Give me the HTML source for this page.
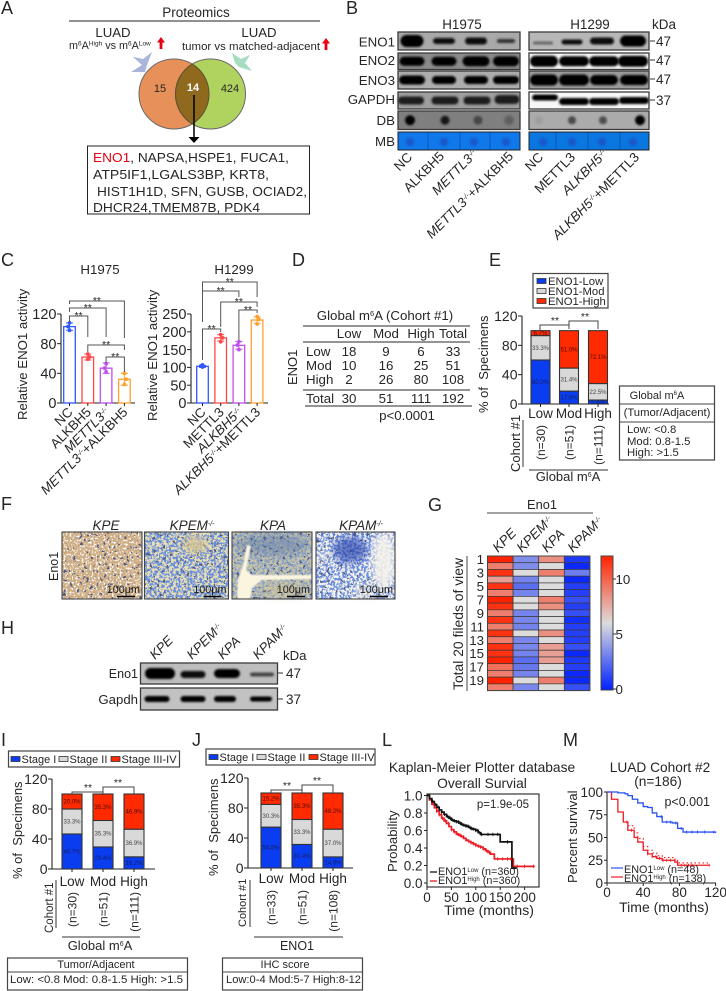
<!DOCTYPE html>
<html lang="en">
<head>
<meta charset="utf-8">
<title>ENO1 multi-panel figure</title>
<style>
html,body{margin:0;padding:0;background:#fff;width:726px;height:991px;overflow:hidden}
svg{display:block;font-family:"Liberation Sans",Arial,sans-serif}
</style>
</head>
<body>
<svg id="fig" xmlns="http://www.w3.org/2000/svg" width="726" height="991" viewBox="0 0 726 991">
<defs>
<filter id="blur1" x="-30%" y="-60%" width="160%" height="220%"><feGaussianBlur stdDeviation="1"/></filter>
<filter id="blur4" x="-50%" y="-50%" width="200%" height="200%"><feGaussianBlur stdDeviation="4"/></filter>
<filter id="blurS" x="-20%" y="-20%" width="140%" height="140%"><feGaussianBlur stdDeviation=".8"/></filter>
<filter id="spBlue" x="0" y="0" width="100%" height="100%"><feTurbulence type="fractalNoise" baseFrequency=".42" numOctaves="3" seed="3"/><feColorMatrix type="matrix" values="0 0 0 0 .14 0 0 0 0 .27 0 0 0 0 .74 9 0 0 0 -4.1"/></filter>
<filter id="spDark" x="0" y="0" width="100%" height="100%"><feTurbulence type="fractalNoise" baseFrequency=".4" numOctaves="3" seed="9"/><feColorMatrix type="matrix" values="0 0 0 0 .25 0 0 0 0 .36 0 0 0 0 .58 9 0 0 0 -4.2"/></filter>
<filter id="spBrown" x="0" y="0" width="100%" height="100%"><feTurbulence type="fractalNoise" baseFrequency=".45" numOctaves="3" seed="5"/><feColorMatrix type="matrix" values="0 0 0 0 .6 0 0 0 0 .4 0 0 0 0 .2 9 0 0 0 -4.2"/></filter>
<filter id="spWhite" x="0" y="0" width="100%" height="100%"><feTurbulence type="fractalNoise" baseFrequency=".5" numOctaves="3" seed="14"/><feColorMatrix type="matrix" values="0 0 0 0 .97 0 0 0 0 .96 0 0 0 0 .93 12 0 0 0 -6.6"/></filter>
<filter id="spBlack" x="0" y="0" width="100%" height="100%"><feTurbulence type="fractalNoise" baseFrequency=".3" numOctaves="2" seed="21"/><feColorMatrix type="matrix" values="0 0 0 0 .08 0 0 0 0 .1 0 0 0 0 .22 24 0 0 0 -15.6"/></filter>
<linearGradient id="cbGrad" x1="0" y1="0" x2="0" y2="1">
<stop offset="0" stop-color="#ff2200"/><stop offset=".5" stop-color="#dcdcdc"/><stop offset="1" stop-color="#0020ff"/>
</linearGradient>
</defs>
</svg>
<script>
/* ---------- chart data ---------- */
const cCats1 = ['NC','ALKBH5','<tspan font-style="italic">METTL3</tspan><tspan font-style="italic" dy="-4" font-size="7">-/-</tspan>','<tspan font-style="italic">METTL3</tspan><tspan font-style="italic" dy="-4" font-size="7">-/-</tspan><tspan dy="4">+ALKBH5</tspan>'];
const cCats2 = ['NC','METTL3','<tspan font-style="italic">ALKBH5</tspan><tspan font-style="italic" dy="-4" font-size="7">-/-</tspan>','<tspan font-style="italic">ALKBH5</tspan><tspan font-style="italic" dy="-4" font-size="7">-/-</tspan><tspan dy="4">+METTL3</tspan>'];
const cValues1 = [103,62,47,32];
const cValues2 = [103,183,162,233];
const cErr1 = [5,4,7,8];
const cErr2 = [3,9,11,9];
const cReps1 = [[108,103,98],[66,62,59],[53,47,42],[40,32,25]];
const cReps2 = [[107,104,101],[192,183,172],[172,163,150],[243,235,222]];
const cTicks1 = [0,40,80,120];
const cTicks2 = [0,50,100,150,200,250];

const tableRows = [['Low',18,9,6,33],['Mod',10,16,25,51],['High',2,26,80,108],['Total',30,51,111,192]];
const tableHead = ['Low','Mod','High','Total'];

const stackCats = ['Low','Mod','High'];
const stackTicks = [0,40,80,120];
const eLow = [60.0,17.6,5.4];
const eMod = [33.3,31.4,22.5];
const eHigh = [6.7,51.0,72.1];
const eN = ['(n=30)','(n=51)','(n=111)'];
const iLow = [46.7,29.4,16.2];
const iMod = [33.3,35.3,36.9];
const iHigh = [20.0,35.3,46.9];
const iN = ['(n=30)','(n=51)','(n=111)'];
const jLow = [54.5,31.4,14.8];
const jMod = [30.3,33.3,37.0];
const jHigh = [15.2,35.3,48.2];
const jN = ['(n=33)','(n=51)','(n=108)'];

const gCols = ['KPE','KPEM<tspan dy="-4" font-size="7">-/-</tspan>','KPA','KPAM<tspan dy="-4" font-size="7">-/-</tspan>'];
const gRowLabels = [1,3,5,7,9,11,13,15,17,19];
const gKPE  = [12,9,11.5,8,11.5,9,12,11.5,9,11.5,9,11.5,9,11.5,11.5,12,9.5,9,12,9];
const gKPEM = [3.5,3.5,6,3.2,2.5,3.2,6,6,3.2,3.3,3.2,6,3.3,3.3,3.2,2.5,2.8,3.2,6,3.3];
const gKPA  = [8.5,6,9,6,6,6,9,8.5,6,6,6,8.5,6,8,8,8,6,6,9,6];
const gKPAM = [0.8,0.3,3,0.3,1,1,1.5,1,1.5,0.5,1,1,1,1.5,0.3,0.8,1,0.3,0.3,1.5];
const gBarTicks = [0,5,10];

const lTicksY = [0,0.2,0.4,0.6,0.8,1.0];
const lTicksX = [0,50,100,150,200];
const lLowT = [0,5,10,15,20,25,30,35,40,45,50,55,60,65,70,75,80,85,90,95,100,105,110,120,130,150,174,183];
const lLowS = [1,.965,.93,.895,.865,.835,.81,.785,.76,.74,.72,.71,.70,.685,.67,.66,.65,.635,.62,.615,.60,.575,.555,.555,.555,.47,.17,.17];
const lHighT = [0,5,10,15,20,25,30,35,40,45,50,55,60,65,70,75,80,85,90,95,100,105,110,115,120,125,130,138,177,221];
const lHighS = [1,.95,.90,.86,.82,.78,.74,.71,.68,.645,.61,.585,.56,.545,.53,.51,.49,.475,.46,.445,.43,.42,.41,.39,.37,.35,.33,.275,.19,.19];
const lLowCensor = [12,18,24,30,36,42,48,52,56,60,64,68,72,76,80,84,88,92,96,100,104,108,112,125,135,145,165,178];
const lHighCensor = [14,20,26,32,38,44,50,56,62,68,74,80,86,90,96,100,106,110,116,122,128,145,155,165,172,185,200,218];

const mTicksY = [0,25,50,75,100];
const mTicksX = [0,40,80,120];
const mLowT = [0,12,20,23,28,34,40,45,50,55,61,72,78,84,120];
const mLowS = [100,99,98,96,92,88,84,83,77,73,67,66,60,56,55];
const mHighT = [0,5,12,18,23,30,34,40,45,50,55,61,75,78,113];
const mHighS = [100,92,78,67,58,50,45,36,32,29,27,25,23,19.5,19.5];
const mHigh2T = [23,30,34,40,45,50,55,61,75,78,113];
const mHigh2S = [63,55,49,40,36,33,30,28,26,22,22];
const mLowCensor = [60,66,70,76,82,88,94,100,108,118];
const mHighCensor = [22,27,45,50,54,58,62,66,70,82,86,90,94,113];

/* ---------- primitives ---------- */
const svg = document.getElementById('fig');
const NS = 'http://www.w3.org/2000/svg';
function mk(tag, name, parent, attrs, inter) {
  const e = document.createElementNS(NS, tag);
  
  
  for (const k in attrs) e.setAttribute(k, attrs[k]);
  (parent || svg).appendChild(e);
  return e;
}
function G(name, parent) { return mk('g', name, parent || svg, {}); }
function T(name, p, x, y, html, size, o) {
  o = o || {};
  const a = {x: x, y: y, 'font-size': size, fill: o.fill || '#262626', 'text-anchor': o.anchor || 'start'};
  if (o.rot !== undefined) a.transform = 'rotate(' + o.rot + ' ' + x + ' ' + y + ')';
  if (o.bold) a['font-weight'] = 'bold';
  if (o.italic) a['font-style'] = 'italic';
  if (o.len) { a.textLength = o.len; a.lengthAdjust = 'spacingAndGlyphs'; }
  const e = mk('text', name, p, a);
  e.innerHTML = html;
  return e;
}
function L(name, p, x1, y1, x2, y2, c, w) {
  return mk('line', name, p, {x1: x1, y1: y1, x2: x2, y2: y2, stroke: c || '#333', 'stroke-width': w || 1});
}
function R(name, p, x, y, w, h, fill, stroke, sw) {
  return mk('rect', name, p, {x: x, y: y, width: w, height: h, fill: fill || 'none', stroke: stroke || 'none', 'stroke-width': sw || 0});
}
function PL(name, p, pts, c, w) {
  return mk('polyline', name, p, {points: pts, fill: 'none', stroke: c || '#444', 'stroke-width': w || 1});
}
function upArrow(name, p, cx, top, bottom) {
  mk('polygon', name, p, {fill: '#e60012', points:
    (cx-1.4)+','+bottom+' '+(cx-1.4)+','+(top+5.5)+' '+(cx-4)+','+(top+5.5)+' '+cx+','+top+' '+(cx+4)+','+(top+5.5)+' '+(cx+1.4)+','+(top+5.5)+' '+(cx+1.4)+','+bottom});
}
function letter(ch, x, y) {
  T('panel-label-' + ch.toLowerCase(), svg, x, y, ch, 18);
}

/* ---------- panel A ---------- */
(function () {
  const g = G('panel-a-venn');
  letter('A', 1, 14);
  T('proteomics-title', g, 196, 17, 'Proteomics', 13.5, {anchor: 'middle'});
  L('proteomics-rule', g, 69, 21, 320, 21, '#222', 1);
  T('luad-left-title', g, 113, 37, 'LUAD', 13.2, {anchor: 'middle'});
  T('luad-right-title', g, 259, 37, 'LUAD', 13.2, {anchor: 'middle'});
  T('m6a-comparison', g, 69, 49, 'm<tspan dy="-3.5" font-size="6.5">6</tspan><tspan dy="3.5">A</tspan><tspan dy="-3.5" font-size="6.5">High</tspan><tspan dy="3.5"> vs m</tspan><tspan dy="-3.5" font-size="6.5">6</tspan><tspan dy="3.5">A</tspan><tspan dy="-3.5" font-size="6.5">Low</tspan>', 10.8);
  upArrow('red-up-arrow-left', g, 161, 37, 49);
  T('tumor-comparison', g, 182, 50, 'tumor vs matched-adjacent', 10.7, {len: 138});
  upArrow('red-up-arrow-right', g, 326, 38, 50);
  mk('polygon', 'blue-wedge-arrow', g, {fill: '#a9b5d9', points: '132.7,56.7 143,59 152,52 147,65 145,72 131,72 142,65'});
  mk('polygon', 'green-wedge-arrow', g, {fill: '#a6dcc0', points: '232,53 241,59 250,55 245,63 252,71 239,67 235,63'});
  mk('circle', 'venn-left', g, {cx: 174, cy: 94, r: 35, fill: '#e8905a', stroke: '#6a6a6a', 'stroke-width': 1});
  mk('circle', 'venn-right', g, {cx: 210.5, cy: 94, r: 35, fill: '#b0d25f', stroke: '#6a6a6a', 'stroke-width': 1});
  mk('path', 'venn-overlap', g, {d: 'M192.25 64.1 A35 35 0 0 1 192.25 123.9 A35 35 0 0 1 192.25 64.1 Z', fill: '#8f6a1e', stroke: '#5c5030', 'stroke-width': 1});
  T('venn-count-left', g, 160, 92, '15', 11, {anchor: 'middle'});
  T('venn-count-overlap', g, 193, 91, '14', 11, {anchor: 'middle', fill: '#fff', bold: true});
  T('venn-count-right', g, 230, 92, '424', 11, {anchor: 'middle'});
  L('venn-arrow-shaft', g, 194, 95, 194, 138, '#000', 1.5);
  mk('polygon', 'venn-arrow-head', g, {fill: '#000', points: '188.5,137 199.5,137 194,143'});
  R('gene-list-box', g, 87.5, 146, 222, 68, '#fff', '#222', 1);
  T('gene-line-1', g, 93, 162, '<tspan fill="#e60012">ENO1</tspan>, NAPSA,HSPE1, FUCA1,', 13, {len: 196});
  T('gene-line-2', g, 93, 179, 'ATP5IF1,LGALS3BP, KRT8,', 13, {len: 176});
  T('gene-line-3', g, 97, 196, 'HIST1H1D, SFN, GUSB, OCIAD2,', 13, {len: 210});
  T('gene-line-4', g, 93, 212, 'DHCR24,TMEM87B, PDK4', 13, {len: 167});
})();

/* ---------- western blot helper ---------- */
function blot(name, p, x, y, w, h, bg, bands) {
  const g = G(name, p);
  R(name + '-bg', g, x, y, w, h, bg);
  bands.forEach(function (b, i) {
    mk('rect', name + '-band-' + (i + 1), g, {x: b[0] - b[1] / 2, y: y + h / 2 - b[2] / 2 + (b[4] || 0), width: b[1], height: b[2], rx: Math.min(b[1], b[2]) / 2, fill: b[3] || '#050505', filter: 'url(#blur1)'});
  });
  R(name + '-border', g, x, y, w, h, 'none', '#3a3a3a', 1.3);
  return g;
}
function dots(name, p, x, y, w, h, bg, list) {
  const g = G(name, p);
  R(name + '-bg', g, x, y, w, h, bg);
  list.forEach(function (d, i) {
    mk('circle', name + '-dot-' + (i + 1), g, {cx: d[0], cy: y + h / 2, r: d[1], fill: d[2], filter: 'url(#blur1)'});
  });
  R(name + '-border', g, x, y, w, h, 'none', '#3a3a3a', 1.3);
}
function mb(name, p, x, y, w, h, bg, divs, spots) {
  const g = G(name, p);
  R(name + '-bg', g, x, y, w, h, bg);
  divs.forEach(function (d, i) { L(name + '-divider-' + (i + 1), g, d, y, d, y + h, '#0d4fa8', .8); });
  spots.forEach(function (d, i) {
    mk('circle', name + '-spot-' + (i + 1), g, {cx: d, cy: y + h / 2 + 1, r: 4, fill: '#1a56c8', filter: 'url(#blur1)'});
  });
  R(name + '-border', g, x, y, w, h, 'none', '#222', 1);
}

/* ---------- panel B ---------- */
(function () {
  const g = G('panel-b-western-blots');
  letter('B', 346, 14);
  T('h1975-title', g, 462, 29, 'H1975', 13.4, {anchor: 'middle'});
  T('h1299-title', g, 590, 29, 'H1299', 13.4, {anchor: 'middle'});
  T('kda-label', g, 652, 29, 'kDa', 13.5);
  const lx = 398, lw = 122, rx = 529, rw = 120;
  const l = [412, 444, 476, 506], r = [543, 572, 602, 633];
  blot('eno1-blot-h1975', g, lx, 32, lw, 18, '#a9a9a9', [[l[0], 23, 12], [l[1], 22, 6, '#111'], [l[2], 22, 7, '#111'], [l[3], 18, 4, '#333']]);
  blot('eno1-blot-h1299', g, rx, 32, rw, 18, '#b7b7b7', [[r[0], 20, 3, '#666', 2], [r[1], 21, 5, '#111', 1], [r[2], 24, 7, '#0a0a0a'], [r[3], 26, 11]]);
  blot('eno2-blot-h1975', g, lx, 53, lw, 16.5, '#8a8a8a', [[l[0], 25, 9], [l[1], 25, 9], [l[2], 27, 10], [l[3], 26, 10]]);
  blot('eno2-blot-h1299', g, rx, 53, rw, 16.5, '#f4f4f4', [[r[0] + 1, 28, 11], [r[1] + 2, 30, 10], [r[2] + 2, 30, 10], [r[3], 30, 11]]);
  blot('eno3-blot-h1975', g, lx, 71, lw, 18, '#adadad', [[l[0], 26, 9], [l[1], 24, 8], [l[2], 24, 8], [l[3], 26, 8]]);
  blot('eno3-blot-h1299', g, rx, 71, rw, 18, '#9c9c9c', [[r[0] + 1, 28, 11], [r[1] + 2, 30, 11], [r[2] + 2, 28, 10], [r[3] + 1, 28, 10]]);
  blot('gapdh-blot-h1975', g, lx, 92, lw, 17, '#9e9e9e', [[l[0] - 1, 26, 8, '#1c1c1c'], [l[1] + 1, 27, 8, '#1c1c1c'], [l[2] + 1, 27, 8, '#1c1c1c'], [l[3] + 1, 25, 9, '#1c1c1c', -1]]);
  blot('gapdh-blot-h1299', g, rx, 92, rw, 17, '#f8f8f8', [[545, 26, 6, '#050505', -3], [r[1] + 2, 30, 7, '#050505', 1], [r[2] + 2, 30, 7, '#050505', 1], [r[3] + 1, 30, 7, '#050505', 0]]);
  dots('dot-blot-h1975', g, lx, 111, lw, 18.5, '#7f7f7f', [[410, 5, '#050505'], [445, 4.5, '#151515'], [478, 4.5, '#474747'], [509, 4.8, '#5f5f5f']]);
  dots('dot-blot-h1299', g, rx, 111, rw, 18.5, '#ababab', [[539, 4, '#9d9d9d'], [572, 4, '#4a4a4a'], [603, 4, '#4d4d4d'], [640, 5, '#050505']]);
  mb('methylene-blue-h1975', g, lx, 132, lw, 18, '#0f78ea', [428, 460, 490], [410, 444, 474, 506]);
  mb('methylene-blue-h1299', g, rx, 132, rw, 18, '#0a76e0', [556, 588, 620], [543, 572, 602, 633]);
  [['ENO1', 46.5], ['ENO2', 65], ['ENO3', 85], ['GAPDH', 104], ['DB', 125], ['MB', 146]].forEach(function (a) {
    T('row-label-' + a[0].toLowerCase(), g, 395, a[1], a[0], 13.3, {anchor: 'end'});
  });
  [['47', 41], ['47', 60], ['47', 79], ['37', 100]].forEach(function (a, i) {
    L('kda-tick-' + i, g, 650, a[1], 655, a[1], '#333', 1);
    T('kda-value-' + i, g, 656, a[1] + 5, a[0], 13.5);
  });
  const I = 'font-style="italic"';
  const labs = [
    ['NC', 413, 158], ['ALKBH5', 445, 157],
    ['<tspan ' + I + '>METTL3</tspan><tspan ' + I + ' dy="-4" font-size="7">-/-</tspan>', 478, 155],
    ['<tspan ' + I + '>METTL3</tspan><tspan ' + I + ' dy="-4" font-size="7">-/-</tspan><tspan dy="4">+ALKBH5</tspan>', 514, 157],
    ['NC', 544, 158], ['METTL3', 576, 158],
    ['<tspan ' + I + '>ALKBH5</tspan><tspan ' + I + ' dy="-4" font-size="7">-/-</tspan>', 608, 155],
    ['<tspan ' + I + '>ALKBH5</tspan><tspan ' + I + ' dy="-4" font-size="7">-/-</tspan><tspan dy="4">+METTL3</tspan>', 640, 158]
  ];
  labs.forEach(function (a, i) {
    T('lane-label-' + (i + 1), g, a[1], a[2], a[0], 13.3, {anchor: 'end', rot: -45});
  });
})();

/* ---------- axes ---------- */
function yAxis(name, p, x, ticks, y, top, size, labelX, fmt) {
  const g = G(name, p);
  L(name + '-line', g, x, y(ticks[0]), x, top, '#222', 1.1);
  ticks.forEach(function (t) {
    L(name + '-tick-' + t, g, x - 4, y(t), x, y(t), '#222', 1);
    T(name + '-label-' + t, g, labelX, y(t) + size * 0.36, fmt ? fmt(t) : t, size, {anchor: 'end'});
  });
}
function xAxisLine(name, p, x1, x2, y0) {
  L(name, p, x1, y0, x2, y0, '#222', 1.1);
}
function bracket(name, p, x1, x2, y, d1, d2) {
  PL(name, p, x1 + ',' + d1 + ' ' + x1 + ',' + y + ' ' + x2 + ',' + y + ' ' + x2 + ',' + d2, '#555', 1);
  T(name + '-stars', p, (x1 + x2) / 2, y + 2.8, '**', 10.5, {anchor: 'middle'});
}

/* ---------- panel C ---------- */
function activityChart(name, p, cfg) {
  const g = G(name, p);
  const y = function (v) { return cfg.y0 - v * cfg.k; };
  const x = function (i) { return cfg.x0 + i * cfg.step; };
  const colors = ['#3258ff', '#ff4848', '#c04ff0', '#ffa02e'];
  yAxis(name + '-y-axis', g, cfg.axisX, cfg.ticks, y, y(cfg.ticks[cfg.ticks.length - 1]), 14.5, cfg.axisX - 4.5);
  xAxisLine(name + '-x-axis', g, cfg.axisX - 4, cfg.axisEnd, cfg.y0);
  cfg.values.forEach(function (v, i) {
    const cx = x(i);
    R(name + '-bar-' + i, g, cx - 5.8, y(v), 11.6, cfg.y0 - y(v), '#fff', colors[i], 1.3);
    L(name + '-tick-' + i, g, cx, cfg.y0, cx, cfg.y0 + 3, '#222', 1);
    L(name + '-error-' + i, g, cx, y(v + cfg.err[i]), cx, y(v - cfg.err[i]), colors[i], 1);
    L(name + '-cap-top-' + i, g, cx - 3.5, y(v + cfg.err[i]), cx + 3.5, y(v + cfg.err[i]), colors[i], 1);
    L(name + '-cap-bottom-' + i, g, cx - 3.5, y(v - cfg.err[i]), cx + 3.5, y(v - cfg.err[i]), colors[i], 1);
    cfg.reps[i].forEach(function (r, j) {
      mk('circle', name + '-point-' + i + '-' + j, g, {cx: cx + (j === 1 ? (i % 2 ? 1.8 : -1.5) : 0), cy: y(r), r: 1.9, fill: colors[i]});
    });
    T(name + '-category-' + i, g, cx + cfg.labDx, cfg.y0 + 10, cfg.cats[i], 13.3, {anchor: 'end', rot: -45});
  });
  return g;
}
(function () {
  const g = G('panel-c-activity');
  letter('C', 1, 266);
  T('h1975-activity-title', g, 100, 274, 'H1975', 13.3, {anchor: 'middle'});
  T('h1299-activity-title', g, 234, 274, 'H1299', 13.3, {anchor: 'middle'});
  T('c1-y-title', g, 27, 420, 'Relative ENO1 activity', 13.2, {rot: -90});
  T('c2-y-title', g, 157, 421, 'Relative ENO1 activity', 13.2, {rot: -90});
  activityChart('h1975-chart', g, {cats: cCats1, values: cValues1, err: cErr1, reps: cReps1, ticks: cTicks1, y0: 403, k: 89 / 120, x0: 69.5, step: 18.3, axisX: 61, axisEnd: 135, labDx: 4});
  activityChart('h1299-chart', g, {cats: cCats2, values: cValues2, err: cErr2, reps: cReps2, ticks: cTicks2, y0: 403, k: 89 / 250, x0: 202.5, step: 18.2, axisX: 191, axisEnd: 268, labDx: 4});
  const b1 = function (i) { return 69.5 + i * 18.3; };
  const b2 = function (i) { return 202.5 + i * 18.2; };
  bracket('h1975-sig-1', g, b1(0), b1(3), 301, 304, 338);
  bracket('h1975-sig-2', g, b1(0), b1(2), 308, 312, 337);
  bracket('h1975-sig-3', g, b1(0), b1(1), 316, 322, 337);
  bracket('h1975-sig-4', g, b1(1), b1(3), 345, 352, 350);
  bracket('h1975-sig-5', g, b1(2), b1(3), 357, 363, 372);
  bracket('h1299-sig-1', g, b2(0), b2(3), 282, 322, 297);
  bracket('h1299-sig-2', g, b2(0), b2(2), 291, 322, 297);
  bracket('h1299-sig-3', g, b2(1), b2(3), 302, 327, 307);
  bracket('h1299-sig-4', g, b2(2), b2(3), 310, 340, 313);
  bracket('h1299-sig-5', g, b2(0), b2(1), 329, 360, 332);
})();

/* ---------- panel D ---------- */
(function () {
  const g = G('panel-d-table');
  letter('D', 292, 266);
  T('d-row-title', g, 297, 385, 'ENO1', 13, {rot: -90});
  T('d-title', g, 385, 320, 'Global m<tspan dy="-4" font-size="7.5">6</tspan><tspan dy="4">A (Cohort #1)</tspan>', 13.3, {anchor: 'middle'});
  L('d-rule-1', g, 303, 326, 470, 326, '#555', 1.2);
  L('d-rule-2', g, 303, 342, 470, 342, '#555', 1.2);
  L('d-rule-3', g, 303, 390, 470, 390, '#555', 1.2);
  L('d-rule-4', g, 305, 406, 472, 406, '#555', 1.2);
  const cols = [349, 386, 421, 453];
  tableHead.forEach(function (h, i) { T('d-head-' + h.toLowerCase(), g, cols[i], 338, h, 13.3, {anchor: 'middle'}); });
  const ys = [356, 370, 384, 403];
  tableRows.forEach(function (r, i) {
    T('d-rowhead-' + r[0].toLowerCase(), g, 306, ys[i], r[0], 13.3);
    for (let c = 1; c < r.length; c++) {
      T('d-cell-' + i + '-' + c, g, cols[c - 1], ys[i], r[c], 13.3, {anchor: 'middle'});
    }
  });
  T('d-p-value', g, 407, 420, 'p&lt;0.0001', 13.3, {anchor: 'middle'});
})();

/* ---------- stacked bars ---------- */
function stacked(name, p, cfg) {
  const g = G(name, p);
  const y = function (v) { return cfg.y0 - v * cfg.k; };
  yAxis(name + '-y-axis', g, cfg.axisX, stackTicks, y, y(120), 14, cfg.axisX - 4.5);
  xAxisLine(name + '-x-axis', g, cfg.axisX, cfg.axisEnd, cfg.y0);
  const segColors = ['#0a3cf0', '#d9d9d9', '#ff2a00'];
  const textCol = ['#14205a', '#444', '#4a0c00'];
  cfg.cats.forEach(function (c, i) {
    const cx = cfg.x[i];
    let base = 0;
    [cfg.low[i], cfg.mod[i], cfg.high[i]].forEach(function (v, s) {
      R(name + '-' + c.toLowerCase() + '-seg-' + s, g, cx - cfg.w / 2, y(base + v), cfg.w, y(base) - y(base + v), segColors[s], '#333', 1.1);
      T(name + '-' + c.toLowerCase() + '-pct-' + s, g, cx, y(base + v / 2) + 2, v.toFixed(1) + '%', 6, {anchor: 'middle', fill: textCol[s]});
      base += v;
    });
    L(name + '-xtick-' + i, g, cx, cfg.y0, cx, cfg.y0 + 3, '#222', 1);
    T(name + '-category-' + c.toLowerCase(), g, cx, cfg.labY, c, 13.5, {anchor: 'middle'});
    T(name + '-n-' + c.toLowerCase(), g, cx + 4.5, cfg.nTop, cfg.n[i], 12, {rot: -90, anchor: 'end'});
  });
  return g;
}
function stageLegend(name, p, x, y, w, h, items) {
  const g = G(name, p);
  R(name + '-box', g, x, y, w, h, '#fff', '#444', 1.2);
  const cols = ['#0a3cf0', '#d9d9d9', '#ff2a00'];
  items.forEach(function (it, i) {
    R(name + '-swatch-' + i, g, it[0], y + h / 2 - 2.5, 9, 5, cols[i], '#333', .8);
    T(name + '-entry-' + i, g, it[0] + 10.5, y + h / 2 + 4, it[1], 11);
  });
}

/* ---------- panel E ---------- */
(function () {
  const g = G('panel-e-stacked');
  letter('E', 489, 266);
  const lg = G('e-legend', g);
  R('e-legend-box', lg, 533, 273.5, 75, 34.5, '#fff', '#444', 1.2);
  [['ENO1-Low', '#0a3cf0', 281], ['ENO1-Mod', '#d9d9d9', 291], ['ENO1-High', '#ff2a00', 301]].forEach(function (a, i) {
    R('e-legend-swatch-' + i, lg, 537, a[2] - 2.5, 9, 5, a[1], '#333', .8);
    T('e-legend-entry-' + i, lg, 548, a[2] + 4, a[0], 11.3);
  });
  T('e-y-title', g, 488, 413, '% of&#160; Specimens', 13, {rot: -90});
  stacked('e-chart', g, {cats: stackCats, low: eLow, mod: eMod, high: eHigh, n: eN, x: [540.5, 569, 598], w: 19, y0: 404, k: 88 / 120, axisX: 522, axisEnd: 609, labY: 418, nTop: 425});
  PL('e-sig-1', g, '540,330 540,325 569,325 569,329', '#444', 1);
  T('e-sig-1-stars', g, 555, 324, '**', 10.5, {anchor: 'middle'});
  PL('e-sig-2', g, '569,325 569,321 598,321 598,329', '#444', 1);
  T('e-sig-2-stars', g, 585, 320, '**', 10.5, {anchor: 'middle'});
  T('e-cohort-label', g, 520, 472, 'Cohort #1', 13, {rot: -90});
  L('e-cohort-rule', g, 523, 420, 523, 467, '#333', 1);
  L('e-group-rule', g, 529, 470, 608, 470, '#333', 1);
  T('e-group-label', g, 568, 481, 'Global m<tspan dy="-4" font-size="7">6</tspan><tspan dy="4">A</tspan>', 13, {anchor: 'middle'});
  R('e-key-box', g, 619.5, 386, 95, 74, '#fff', '#444', 1.2);
  L('e-key-rule-1', g, 619.5, 404, 714.5, 404, '#444', 1);
  L('e-key-rule-2', g, 619.5, 422, 714.5, 422, '#444', 1);
  T('e-key-title', g, 657, 399, 'Global m<tspan dy="-4" font-size="6">6</tspan><tspan dy="4">A</tspan>', 11, {anchor: 'middle'});
  T('e-key-subtitle', g, 667, 416, '(Tumor/Adjacent)', 11.3, {anchor: 'middle'});
  T('e-key-low', g, 627, 433, 'Low: &lt;0.8', 11.3);
  T('e-key-mod', g, 627, 445, 'Mod: 0.8-1.5', 11.3);
  T('e-key-high', g, 627, 456, 'High: &gt;1.5', 11.3);
})();

/* ---------- panel F ---------- */
function ihc(name, p, x, y, w, h, base, layers, patches) {
  const g = G(name, p);
  R(name + '-tissue', g, x, y, w, h, base);
  (patches.under || []).forEach(function (a, i) {
    mk('ellipse', name + '-patch-u' + i, g, {cx: a[0], cy: a[1], rx: a[2], ry: a[3], fill: a[4], filter: 'url(#blur4)'});
  });
  layers.forEach(function (f, i) {
    mk('rect', name + '-stain-' + i, g, {x: x, y: y, width: w, height: h, filter: 'url(#' + f + ')'});
  });
  (patches.over || []).forEach(function (a, i) {
    mk('ellipse', name + '-patch-o' + i, g, {cx: a[0], cy: a[1], rx: a[2], ry: a[3], fill: a[4], opacity: a[5] || 1, filter: 'url(#blur4)'});
  });
  (patches.shape || []).forEach(function (a, i) {
    mk('polygon', name + '-clear-area-' + i, g, {points: a, fill: '#fbf5e0', filter: 'url(#blurS)'});
  });
  R(name + '-border', g, x, y, w, h, 'none', '#444', 1.1);
  T(name + '-scale-text', g, x + w - 2, 593, '100μm', 10.8, {anchor: 'end', fill: '#1a1a1a'});
  L(name + '-scale-bar', g, x + w - 25, 596.5, x + w - 7, 596.5, '#000', 1.6);
}
(function () {
  const g = G('panel-f-ihc');
  letter('F', 1, 510);
  [['KPE', 106], ['KPEM<tspan dy="-4" font-size="7">-/-</tspan>', 192], ['KPA', 273], ['KPAM<tspan dy="-4" font-size="7">-/-</tspan>', 361]].forEach(function (a, i) {
    T('f-column-label-' + i, g, a[1], 530, a[0], 13.5, {anchor: 'middle', italic: true});
  });
  T('f-row-label', g, 58, 581, 'Eno1', 12.5, {rot: -90});
  ihc('ihc-kpe', g, 62, 532, 80, 67, '#cfae88', ['spBrown', 'spWhite', 'spBlack'], {});
  ihc('ihc-kpem', g, 144.5, 532, 84, 67, '#e8e0b4', ['spBlue', 'spBlack'], {over: [[195, 545, 12, 9, '#dcc890', .8]]});
  ihc('ihc-kpa', g, 232, 532, 80, 67, '#c8c4a8', ['spDark', 'spBlack'], {over: [[272, 545, 36, 11, '#5a78a8', .45], [285, 590, 22, 7, '#d8c896', .55]], shape: ['247,545 251,546 246,570 252,575 312,575 312,579 262,580 252,588 250,599 237,599 238,580 243,565']});
  ihc('ihc-kpam', g, 316, 532, 79, 67, '#f6f3ec', ['spBlue', 'spBlack'], {over: [[350, 550, 17, 13, '#2e48b0', .7], [384, 562, 12, 30, '#f7f4ee', .9], [323, 556, 6, 5, '#f7f4ee', .7], [365, 592, 10, 7, '#f4efe4', .7]]});
})();

/* ---------- panel H ---------- */
(function () {
  const g = G('panel-h-blot');
  letter('H', 1, 634);
  const S = '<tspan dy="-4" font-size="7">-/-</tspan>';
  [['KPE', 155, 660], ['KPEM' + S, 192, 660], ['KPA', 223, 660], ['KPAM' + S, 258, 660]].forEach(function (a, i) {
    T('h-lane-label-' + i, g, a[1], a[2], a[0], 13.3, {rot: -45, italic: true});
  });
  T('h-kda', g, 283, 660, 'kDa', 13.2);
  blot('h-eno1-blot', g, 140.5, 663, 137, 21, '#bdbdbd', [[160, 30, 11], [193, 25, 7, '#111', 1], [227, 26, 9], [262, 24, 4, '#444', 1]]);
  blot('h-gapdh-blot', g, 140.5, 688, 137, 22, '#c2c2c2', [[157, 25, 6], [193, 25, 6], [225, 22, 6], [261, 22, 5]]);
  T('h-eno1-label', g, 138, 678, 'Eno1', 12.5, {anchor: 'end'});
  T('h-gapdh-label', g, 138, 704, 'Gapdh', 13.2, {anchor: 'end'});
  L('h-tick-47', g, 278, 673, 283, 673, '#333', 1);
  L('h-tick-37', g, 278, 699, 283, 699, '#333', 1);
  T('h-value-47', g, 286, 678, '47', 13.5);
  T('h-value-37', g, 286, 704, '37', 13.5);
})();

/* ---------- panel G ---------- */
function heatColor(v) {
  const t = v / 12;
  const a = t < .5 ? [0, 32, 255] : [220, 220, 220];
  const b = t < .5 ? [220, 220, 220] : [255, 34, 0];
  const u = t < .5 ? t * 2 : (t - .5) * 2;
  return 'rgb(' + a.map(function (c, i) { return Math.round(c + (b[i] - c) * u); }).join(',') + ')';
}
(function () {
  const g = G('panel-g-heatmap');
  letter('G', 428, 511);
  T('g-title', g, 542, 509, 'Eno1', 12.8, {anchor: 'middle'});
  L('g-title-rule', g, 487, 513, 593, 513, '#444', 1);
  const left = 487.5, top = 556, cw = 25.6, rh = 6.73;
  const cols = [gKPE, gKPEM, gKPA, gKPAM];
  cols.forEach(function (col, c) {
    col.forEach(function (v, r) {
      R('heat-cell-c' + (c + 1) + '-r' + (r + 1), g, left + c * cw, top + r * rh, cw, rh, heatColor(v), '#3a3a3a', .7);
    });
  });
  R('heatmap-border', g, left, top, cw * 4, rh * 20, 'none', '#444', 1);
  gCols.forEach(function (c, i) {
    T('g-column-label-' + i, g, [498, 522, 547, 573][i], 553, c, 13.5, {italic: true, rot: -45});
  });
  gRowLabels.forEach(function (n) {
    T('g-row-label-' + n, g, 484, top + (n - 1) * rh + 8, n, 13.3, {anchor: 'end'});
  });
  L('g-row-rule', g, 467, 556, 467, 691, '#444', 1);
  T('g-row-title', g, 463, 690, 'Total 20 fileds of view', 13.9, {rot: -90});
  R('colorbar', g, 601, 556, 12, 134, 'url(#cbGrad)', '#444', 1);
  const cy = function (v) { return 689 - v * 11; };
  gBarTicks.forEach(function (t) {
    L('colorbar-tick-' + t, g, 613, cy(t), 616, cy(t), '#333', 1);
    T('colorbar-label-' + t, g, 615.5, cy(t) + 5, t, 13.3);
  });
})();

/* ---------- panels I & J ---------- */
(function () {
  const g = G('panel-i-stage');
  T('panel-label-i', svg, 1, 746, 'I', 18);
  stageLegend('i-legend', g, 8.5, 751, 171, 16, [[11, 'Stage I'], [59, 'Stage II'], [111, 'Stage III-IV']]);
  T('i-y-title', g, 22, 879, '% of&#160; Specimens', 13, {rot: -90});
  stacked('i-chart', g, {cats: stackCats, low: iLow, mod: iMod, high: iHigh, n: iN, x: [72, 103, 134], w: 20, y0: 869, k: 90 / 120, axisX: 52, axisEnd: 155, labY: 886, nTop: 892});
  PL('i-sig-1', g, '72,795 72,792 103,792 103,795', '#444', 1);
  T('i-sig-1-stars', g, 88, 791, '**', 10.5, {anchor: 'middle'});
  PL('i-sig-2', g, '103,792 103,787 134,787 134,795', '#444', 1);
  T('i-sig-2-stars', g, 118, 786, '**', 10.5, {anchor: 'middle'});
  T('i-cohort-label', g, 53, 933, 'Cohort #1', 11.5, {rot: -90});
  L('i-cohort-rule', g, 56, 880, 56, 928, '#333', 1);
  L('i-group-rule', g, 62, 937, 140, 937, '#333', 1);
  T('i-group-label', g, 100, 950, 'Global m<tspan dy="-4" font-size="7">6</tspan><tspan dy="4">A</tspan>', 13, {anchor: 'middle'});
  R('i-key-box', g, 7.5, 958, 180, 32, '#fff', '#444', 1.2);
  L('i-key-rule', g, 7.5, 972, 187.5, 972, '#444', 1);
  T('i-key-title', g, 96, 968, 'Tumor/Adjacent', 11, {anchor: 'middle'});
  T('i-key-text', g, 10, 983, 'Low: &lt;0.8 Mod: 0.8-1.5 High: &gt;1.5', 11, {len: 173});
})();
(function () {
  const g = G('panel-j-stage');
  letter('J', 192, 746);
  stageLegend('j-legend', g, 206, 749, 169, 16, [[209, 'Stage I'], [257, 'Stage II'], [309, 'Stage III-IV']]);
  T('j-y-title', g, 218, 876, '% of&#160; Specimens', 13, {rot: -90});
  stacked('j-chart', g, {cats: stackCats, low: jLow, mod: jMod, high: jHigh, n: jN, x: [271, 302, 333], w: 20, y0: 868, k: 90 / 120, axisX: 248, axisEnd: 353, labY: 883, nTop: 890});
  PL('j-sig-1', g, '271,793 271,790 302,790 302,793', '#444', 1);
  T('j-sig-1-stars', g, 287, 789, '**', 10.5, {anchor: 'middle'});
  PL('j-sig-2', g, '302,790 302,785 333,785 333,793', '#444', 1);
  T('j-sig-2-stars', g, 317, 784, '**', 10.5, {anchor: 'middle'});
  T('j-cohort-label', g, 246, 927, 'Cohort #1', 11, {rot: -90});
  L('j-cohort-rule', g, 250, 880, 250, 927, '#333', 1);
  L('j-group-rule', g, 254, 937, 343, 937, '#333', 1);
  T('j-group-label', g, 297, 950, 'ENO1', 12.5, {anchor: 'middle'});
  R('j-key-box', g, 222.5, 958, 140, 32, '#fff', '#444', 1.2);
  L('j-key-rule', g, 222.5, 972, 362.5, 972, '#444', 1);
  T('j-key-title', g, 285, 968, 'IHC score', 11, {anchor: 'middle'});
  T('j-key-text', g, 226, 983, 'Low:0-4 Mod:5-7 High:8-12', 11, {len: 135});
})();

/* ---------- survival curves ---------- */
function stepPoints(ts, ss, x, y) {
  let pts = x(ts[0]) + ',' + y(ss[0]);
  for (let i = 1; i < ts.length; i++) {
    pts += ' ' + x(ts[i]) + ',' + y(ss[i - 1]) + ' ' + x(ts[i]) + ',' + y(ss[i]);
  }
  return pts;
}
function survAt(ts, ss, t) {
  let s = ss[0];
  for (let i = 0; i < ts.length; i++) { if (ts[i] <= t) s = ss[i]; }
  return s;
}
function censor(name, p, list, ts, ss, x, y, c, h) {
  list.forEach(function (t, i) {
    const s = survAt(ts, ss, t);
    L(name + '-' + i, p, x(t), y(s) - h, x(t), y(s) + h, c, .9);
  });
}

/* ---------- panel L ---------- */
(function () {
  const g = G('panel-l-km');
  letter('L', 382, 746);
  T('l-title-1', g, 482, 772, 'Kaplan-Meier Plotter database', 13.8, {anchor: 'middle'});
  T('l-title-2', g, 482, 788, 'Overall Survial', 13.8, {anchor: 'middle'});
  const x = function (t) { return 427 + t * 24.4 / 50; };
  const y = function (s) { return 883 - s * 87.5; };
  R('l-plot-frame', g, 427, 794, 112, 93, 'none', '#222', 1.1);
  lTicksY.forEach(function (t) {
    L('l-y-tick-' + t, g, 424, y(t), 427, y(t), '#222', 1);
    T('l-y-label-' + t, g, 422.5, y(t) + 4.8, t.toFixed(1), 13.5, {anchor: 'end'});
  });
  lTicksX.forEach(function (t) {
    L('l-x-tick-' + t, g, x(t), 887, x(t), 890, '#222', 1);
    T('l-x-label-' + t, g, x(t), 902, t, 13.5, {anchor: 'middle'});
  });
  T('l-y-title', g, 397, 872, 'Probability', 13.2, {rot: -90});
  T('l-x-title', g, 489, 915, 'Time (months)', 14, {anchor: 'middle'});
  T('l-p-value', g, 529, 808, 'p=1.9e-05', 11.5, {anchor: 'end'});
  PL('l-curve-high', g, stepPoints(lHighT, lHighS, x, y), '#ee1c25', 1.7);
  PL('l-curve-low', g, stepPoints(lLowT, lLowS, x, y), '#111', 1.7);
  censor('l-censor-high', g, lHighCensor, lHighT, lHighS, x, y, '#ee1c25', 1.7);
  censor('l-censor-low', g, lLowCensor, lLowT, lLowS, x, y, '#111', 1.7);
  L('l-legend-line-low', g, 430, 872, 437, 872, '#111', 1.3);
  L('l-legend-line-high', g, 430, 881, 437, 881, '#ee1c25', 1.3);
  T('l-legend-low', g, 438, 875, 'ENO1<tspan dy="-3" font-size="6">Low</tspan><tspan dy="3"> (n=360)</tspan>', 10.8);
  T('l-legend-high', g, 438, 884, 'ENO1<tspan dy="-3" font-size="6">High</tspan><tspan dy="3"> (n=360)</tspan>', 10.8);
})();

/* ---------- panel M ---------- */
(function () {
  const g = G('panel-m-km');
  letter('M', 563, 746);
  T('m-title-1', g, 660, 772, 'LUAD Cohort #2', 13.7, {anchor: 'middle'});
  T('m-title-2', g, 658, 786, '(n=186)', 13.7, {anchor: 'middle'});
  const x = function (t) { return 607 + t * 36.2 / 40; };
  const y = function (s) { return 883 - s * 0.91; };
  L('m-y-axis', g, 607, 883, 607, 792, '#222', 1.1);
  L('m-x-axis', g, 607, 883, 716, 883, '#222', 1.1);
  mTicksY.forEach(function (t) {
    L('m-y-tick-' + t, g, 604, y(t), 607, y(t), '#222', 1);
    T('m-y-label-' + t, g, 603, y(t) + 4.8, t, 13.5, {anchor: 'end'});
  });
  mTicksX.forEach(function (t) {
    L('m-x-tick-' + t, g, x(t), 883, x(t), 886, '#222', 1);
    T('m-x-label-' + t, g, x(t), 897, t, 13.5, {anchor: 'middle'});
  });
  T('m-y-title', g, 577, 883, 'Percent survival', 13, {rot: -90});
  T('m-x-title', g, 664, 912, 'Time (months)', 14, {anchor: 'middle'});
  T('m-p-value', g, 710, 806, 'p&lt;0.001', 12.5, {anchor: 'end'});
  PL('m-curve-high', g, stepPoints(mHighT, mHighS, x, y), '#ee1c25', 1.3);
  mk('polyline', 'm-curve-high-dotted', g, {points: stepPoints(mHigh2T, mHigh2S, x, y), fill: 'none', stroke: '#ee1c25', 'stroke-width': 1.1, 'stroke-dasharray': '1.5 2.5'});
  PL('m-curve-low', g, stepPoints(mLowT, mLowS, x, y), '#2a52f0', 1.3);
  censor('m-censor-low', g, mLowCensor, mLowT, mLowS, x, y, '#2a52f0', 1.5);
  censor('m-censor-high', g, mHighCensor, mHighT, mHighS, x, y, '#ee1c25', 1.5);
  L('m-legend-line-low', g, 611, 868, 623, 868, '#2a52f0', 1.2);
  L('m-legend-line-high', g, 611, 877, 623, 877, '#ee1c25', 1.2);
  T('m-legend-low', g, 624, 873, 'ENO1<tspan dy="-3" font-size="6">Low</tspan><tspan dy="3"> (n=48)</tspan>', 10.8);
  T('m-legend-high', g, 624, 882, 'ENO1<tspan dy="-3" font-size="6">High</tspan><tspan dy="3"> (n=138)</tspan>', 10.8);
})();
</script>
</body>
</html>
